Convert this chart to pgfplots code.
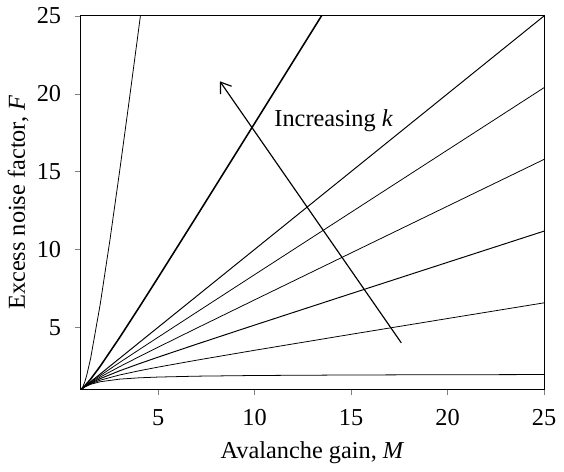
\documentclass[border=0pt]{standalone}
\usepackage{fontspec}
\setmainfont{Liberation Serif}
\usepackage{pgfplots}
\pgfplotsset{compat=1.18}
\usetikzlibrary{arrows.meta}
\begin{document}
\fontsize{12}{14}\selectfont
\begin{tikzpicture}
\begin{axis}[
  width=238pt, height=192pt, scale only axis,
  xmin=1, xmax=25, ymin=1, ymax=25,
  xtick={5,10,15,20,25}, ytick={5,10,15,20,25},
  tick align=outside, xtick pos=bottom, ytick pos=left,
  major tick length=3pt,
  /pgf/number format/assume math mode=true,
  tick label style={font=\fontsize{12.5}{14}\selectfont},
  label style={font=\fontsize{12.5}{14}\selectfont},
  xticklabel style={yshift=-3pt},
  yticklabel style={xshift=-3pt},
  xlabel={Avalanche gain, \textit{M}},
  ylabel={Excess noise factor, \textit{F}},
  xlabel style={yshift=0pt},
  ylabel style={yshift=-4pt},
  axis line style={line width=0.5pt},
  cycle list={{black,solid,line width=0.5pt}},
  every axis plot/.append style={no marks},
]
% k = 0
\addplot coordinates {(1,1)(1.1,1.0909)(1.2,1.1667)(1.5,1.3333)(2,1.5)(3,1.6667)(4,1.75)(5,1.8)(7,1.8571)(10,1.9)(15,1.9333)(20,1.95)(25,1.96)};
% k = 0.2
\addplot coordinates {(1,1)(1.1,1.0927)(1.2,1.1733)(1.5,1.3667)(2,1.6)(3,1.9333)(4,2.2)(5,2.44)(7,2.8857)(10,3.52)(15,4.5467)(20,5.56)(25,6.568)};
% k = 0.4
\addplot coordinates {(1,1)(1.1,1.0945)(1.2,1.18)(1.5,1.4)(2,1.7)(3,2.2)(4,2.65)(5,3.08)(7,3.9143)(10,5.14)(15,7.16)(20,9.17)(25,11.176)};
% k = 0.6
\addplot coordinates {(1,1)(1.1,1.0964)(1.2,1.1867)(1.5,1.4333)(2,1.8)(3,2.4667)(4,3.1)(5,3.72)(7,4.9429)(10,6.76)(15,9.7733)(20,12.78)(25,15.784)};
% k = 0.8
\addplot coordinates {(1,1)(1.1,1.0982)(1.2,1.1933)(1.5,1.4667)(2,1.9)(3,2.7333)(4,3.55)(5,4.36)(7,5.9714)(10,8.38)(15,12.3867)(20,16.39)(25,20.392)};
% k = 1
\addplot coordinates {(1,1)(5,5)(10,10)(25,25)};
% k = 2
\addplot+[line width=0.8pt] coordinates {(1,1)(1.1,1.1091)(1.2,1.2333)(1.5,1.6667)(2,2.5)(3,4.3333)(4,6.25)(5,8.2)(7,12.1429)(10,18.1)(13,24.0769)(13.5,25.0741)(15,28.0667)};
% k = 10
\addplot coordinates {(1,1)(1.1,1.1818)(1.2,1.5)(1.3,1.9231)(1.5,3)(2,6.5)(2.5,10.6)(3,15)(3.5,19.5714)(4,24.25)(4.5,29)};
% arrow
\addplot[black, line width=0.6pt, -{Straight Barb[length=5pt,width=7pt]}] coordinates {(17.6,4) (8.2,20.8)};
\node at (axis cs:14.1,18.3) {\fontsize{12.5}{14}\selectfont Increasing \textit{k}};
\end{axis}
\end{tikzpicture}
\end{document}
